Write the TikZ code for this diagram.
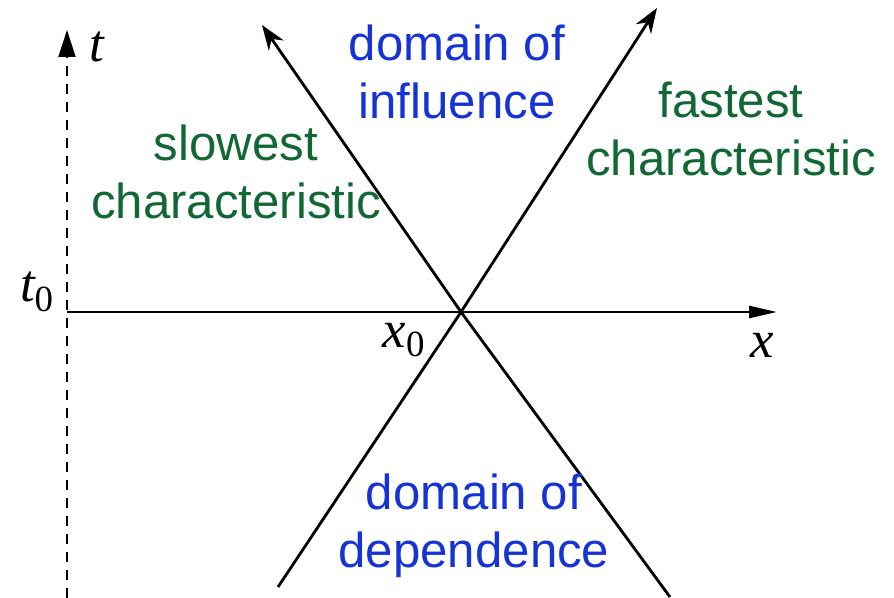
\documentclass[tikz,border=0pt]{standalone}
\usepackage{fontspec}
\setmainfont{Liberation Serif}
\newfontfamily\labelfont{Liberation Sans}
\usepackage{tikz}
\usetikzlibrary{arrows.meta,positioning}

\definecolor{domblue}{RGB}{22,52,214}
\definecolor{chargreen}{RGB}{18,104,52}

\begin{document}
\begin{tikzpicture}[
		x=0.02cm, y=-0.02cm,
		domlabel/.style={
			align=center,
			text=domblue,
			font=\labelfont\fontsize{28}{33}\selectfont,
			inner sep=0pt
		},
		charlabel/.style={
			align=center,
			text=chargreen,
			font=\labelfont\fontsize{28}{33}\selectfont,
			inner sep=0pt
		},
		axlabel/.style={
			font=\fontsize{30}{34}\selectfont\itshape,
			inner sep=0pt
		},
		axis/.style={
			-{Triangle[length=0.56cm,width=0.24cm]},
			line width=1.6pt,
			draw=black
		},
		timeaxis/.style={
			-{Triangle[length=0.54cm,width=0.34cm]},
			line width=1.1pt,
			dash pattern=on 0.2cm off 0.16cm,
			draw=black
		},
		charline/.style={
			-{Stealth[length=0.5cm,width=0.36cm,inset=0.16cm]},
			line width=1.6pt,
			draw=black
		}
		]
		\useasboundingbox (0,0) rectangle (894,598);

		\coordinate (origin) at (67,598);
		\coordinate (ttip) at (67,30);
		\coordinate (xstart) at (67,312);
		\coordinate (xtip) at (777,312);
		\coordinate (x0) at (461,312);
		\coordinate (slowend) at (670,597);
		\coordinate (slowtip) at (262,25);
		\coordinate (fastend) at (278,587);
		\coordinate (fasttip) at (657,8);

		\draw[timeaxis] (origin) -- (ttip);
		\draw[axis] (xstart) -- (xtip);
		\draw[charline] (slowend) -- (x0) -- (slowtip);
		\draw[charline] (fastend) -- (x0) -- (fasttip);

		\node[axlabel] (tlabel) at (97,47) {t};
		\node[axlabel] (t0label) at (37,292) {t\textsubscript{\upshape 0}};
		\node[axlabel] (x0label) at (404,340) {x\textsubscript{\upshape 0}};
		\node[axlabel] (xlabel) at (762,345) {x};

		\node[domlabel] (influence) at (457,72) {domain of\\influence};
		\node[domlabel] (dependence) at (474,526) {domain of\\dependence};
		\node[charlabel] (slowest) at (236,172) {slowest\\characteristic};
		\node[charlabel] (fastest) at (731,129) {fastest\\characteristic};
	\end{tikzpicture}
\end{document}
